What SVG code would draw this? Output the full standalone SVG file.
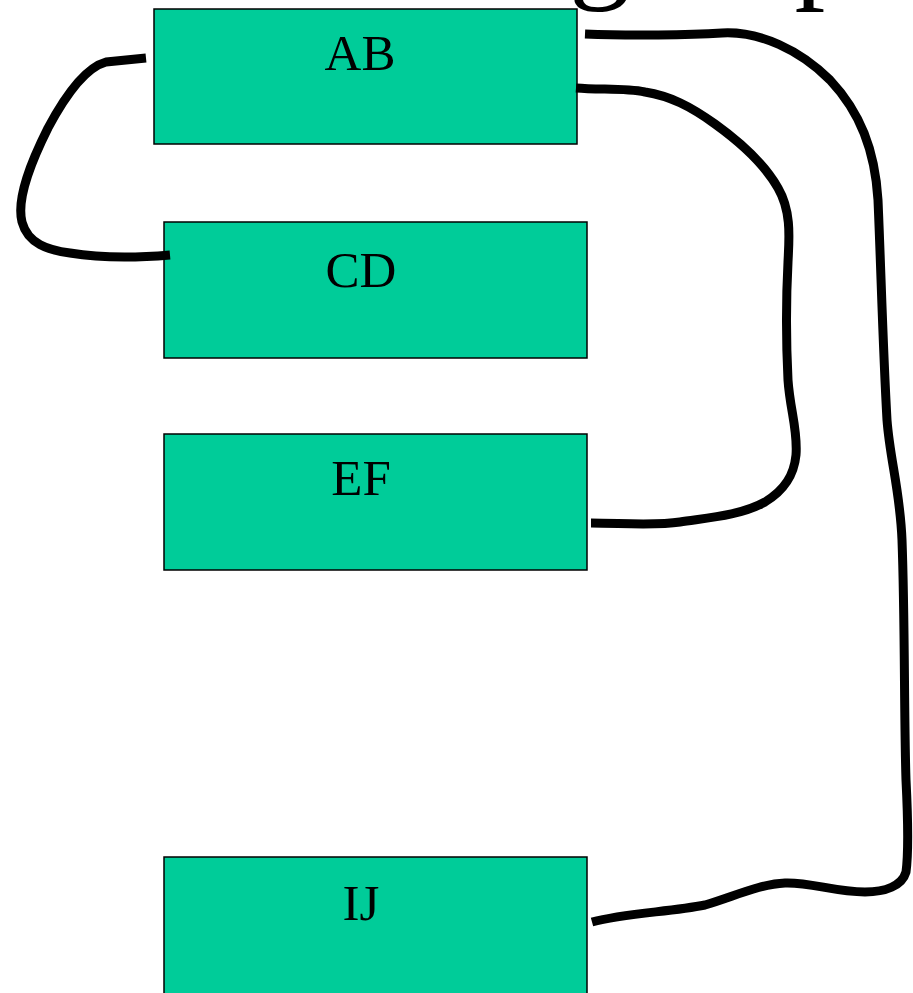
<svg xmlns="http://www.w3.org/2000/svg" width="913" height="993" viewBox="0 0 913 993">
<style>
.box{fill:#00CC99;stroke:#000;stroke-width:1.5}
.lbl{font-family:"Liberation Serif","Times New Roman",serif;font-size:51px;fill:#000;text-anchor:middle}
.title{font-family:"Liberation Serif","Times New Roman",serif;font-size:123px;fill:#000}
.conn{fill:none;stroke:#000;stroke-width:9;stroke-linecap:butt;stroke-linejoin:round}
</style>
<rect width="913" height="993" fill="#fff"/>
<text class="title" x="569" y="-14">groups</text>
<g id="AB"><rect class="box" x="154" y="9" width="423" height="135"/><text class="lbl" x="360" y="70">AB</text></g>
<g id="CD"><rect class="box" x="164" y="222" width="423" height="136"/><text class="lbl" x="361" y="287">CD</text></g>
<g id="EF"><rect class="box" x="164" y="434" width="423" height="136"/><text class="lbl" x="361" y="495">EF</text></g>
<g id="IJ"><rect class="box" x="164" y="857" width="423" height="140"/><text class="lbl" x="361" y="920">IJ</text></g>
<g id="connectors">
<path class="conn" d="M146,58 L106,62 C84,68 64,98 48,128 C32,160 16,198 22,222 C28,244 48,250 70,253 C100,258 135,258 170,255"/>
<path class="conn" d="M576,88 C600,90 625,88 645,92 C670,96 690,106 715,124 C740,142 765,165 778,188 C792,212 789,240 788,262 C786,300 786,340 788,380 C790,410 798,430 796,455 C794,475 785,490 765,502 C740,516 705,518 680,522 C655,526 620,523 591,523"/>
<path class="conn" d="M585,34 C630,36 690,35 722,33 C760,31 800,50 830,80 C860,112 875,150 878,200 C881,270 883,350 887,420 C890,460 900,490 902,540 C905,620 904,720 906,780 C908,820 909,850 906,872 C902,886 885,892 865,892 C835,892 810,882 785,883 C760,884 735,896 705,905 C670,912 625,913 592,922"/>
</g>
</svg>
